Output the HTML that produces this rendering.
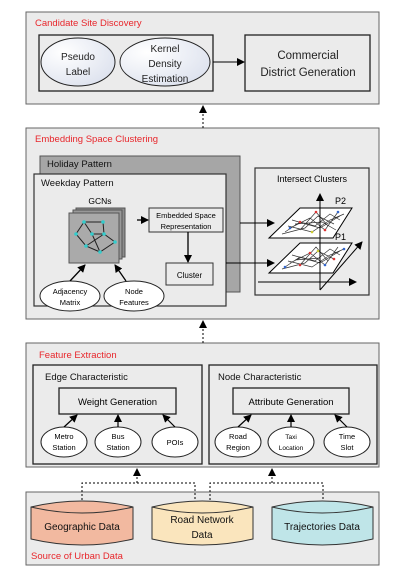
<!DOCTYPE html>
<html><head><style>body{margin:0;background:#fff}svg{display:block}text{font-family:"Liberation Sans",sans-serif}</style></head>
<body>
<svg width="406" height="579" viewBox="0 0 406 579" xmlns="http://www.w3.org/2000/svg">
<defs>
<marker id="a" markerWidth="8" markerHeight="8" refX="7" refY="4" orient="auto" markerUnits="userSpaceOnUse"><path d="M0,0 L8,4 L0,8 z" fill="#000"/></marker>
<radialGradient id="eg" cx="0.3" cy="0.3" r="0.8"><stop offset="0" stop-color="#fff"/><stop offset="1" stop-color="#dde2ee"/></radialGradient>
</defs>
<g stroke="#666" stroke-width="1" fill="#ebebeb">
<rect x="26" y="12" width="353" height="92"/>
<rect x="26" y="128" width="353" height="191"/>
<rect x="26" y="343" width="353" height="124"/>
<rect x="26" y="492" width="353" height="73"/>
</g>
<g font-size="9.5" fill="#e8262b">
<text x="35" y="26">Candidate Site Discovery</text>
<text x="35" y="142">Embedding Space  Clustering</text>
<text x="39" y="358">Feature Extraction</text>
<text x="31" y="559">Source of Urban Data</text>
</g>
<g stroke="#222" stroke-width="1.3" fill="#ebebeb">
<rect x="39" y="35" width="174" height="56"/>
<rect x="245" y="35" width="125" height="56"/>
</g>
<g stroke="#222" fill="url(#eg)"><ellipse cx="78" cy="62" rx="37" ry="24"/><ellipse cx="165" cy="62" rx="45" ry="24"/></g>
<g font-size="10" text-anchor="middle" fill="#222">
<text x="78" y="60">Pseudo</text><text x="78" y="75">Label</text>
<text x="165" y="52">Kernel</text><text x="165" y="67">Density</text><text x="165" y="82">Estimation</text>
</g>
<g font-size="11.5" text-anchor="middle" fill="#222"><text x="308" y="59">Commercial</text><text x="308" y="76">District Generation</text></g>
<line x1="213" y1="62" x2="244" y2="62" stroke="#000" marker-end="url(#a)"/>
<line x1="203" y1="128" x2="203" y2="106" stroke="#000" stroke-dasharray="2,2" marker-end="url(#a)"/>
<line x1="203" y1="343" x2="203" y2="321" stroke="#000" stroke-dasharray="2,2" marker-end="url(#a)"/>
<rect x="40" y="156" width="200" height="136" fill="#a6a6a6" stroke="#555"/>
<text x="47" y="167" font-size="9.5" fill="#111">Holiday Pattern</text>
<rect x="34" y="174" width="192" height="132" fill="#ebebeb" stroke="#333" stroke-width="1.2"/>
<text x="41" y="186" font-size="9.5" fill="#111">Weekday Pattern</text>
<text x="100" y="204" font-size="8.5" text-anchor="middle">GCNs</text>
<rect x="76" y="208" width="49" height="49" fill="#8c8c8c" stroke="#555"/>
<rect x="73" y="210" width="49" height="49" fill="#999" stroke="#555"/>
<rect x="69" y="213" width="50" height="50" fill="#aaa" stroke="#555"/>
<g stroke="#222" stroke-width="1" fill="none"><path d="M84,222 L76,234 L86,246 L100,252 L115,242 L104,234 L92,234 L84,222 L103,222 L104,234 L86,246 M92,234 L100,252"/></g>
<g fill="#3cc"><circle cx="84" cy="222" r="1.8"/><circle cx="103" cy="222" r="1.8"/><circle cx="76" cy="234" r="1.8"/><circle cx="92" cy="234" r="1.8"/><circle cx="104" cy="234" r="1.8"/><circle cx="86" cy="246" r="1.8"/><circle cx="100" cy="252" r="1.8"/><circle cx="115" cy="242" r="1.8"/></g>
<rect x="149" y="208" width="74" height="24" fill="#ebebeb" stroke="#333"/>
<text x="186" y="218" font-size="7.5" text-anchor="middle">Embedded Space</text>
<text x="186" y="229" font-size="7.5" text-anchor="middle">Representation</text>
<line x1="137" y1="220" x2="148" y2="220" stroke="#000" stroke-width="1.3" marker-end="url(#a)"/>
<line x1="188" y1="232" x2="188" y2="262" stroke="#000" stroke-width="1.3" marker-end="url(#a)"/>
<rect x="166" y="263" width="47" height="22" fill="#ebebeb" stroke="#333"/>
<text x="189.5" y="278" font-size="8" text-anchor="middle">Cluster</text>
<g stroke="#222" fill="#fff"><ellipse cx="70" cy="296" rx="30" ry="15"/><ellipse cx="134" cy="296" rx="30" ry="15"/></g>
<g font-size="7.5" text-anchor="middle"><text x="70" y="294">Adjacency</text><text x="70" y="305">Matrix</text><text x="134" y="294">Node</text><text x="134" y="305">Features</text></g>
<line x1="70" y1="281" x2="85" y2="265" stroke="#000" stroke-width="1.3" marker-end="url(#a)"/>
<line x1="126" y1="281" x2="115" y2="265" stroke="#000" stroke-width="1.3" marker-end="url(#a)"/>
<rect x="255" y="168" width="114" height="127" fill="#ebebeb" stroke="#333" stroke-width="1.2"/>
<text x="312" y="182" font-size="9" text-anchor="middle">Intersect Clusters</text>
<line x1="240" y1="223" x2="274" y2="223" stroke="#000" marker-end="url(#a)"/>
<line x1="226" y1="263" x2="274" y2="263" stroke="#000" marker-end="url(#a)"/>
<line x1="258" y1="282" x2="356" y2="282" stroke="#000" marker-end="url(#a)"/>
<line x1="320" y1="290" x2="362" y2="242" stroke="#000" marker-end="url(#a)"/>
<g stroke="#000" fill="#fff"><path d="M300,208 L352,208 L333,238 L269,238 z"/><path d="M300,243 L352,243 L333,273 L269,273 z"/></g>
<g stroke="#333" stroke-width="0.7" fill="none">
<path d="M285,232 L300,222 L315,226 L330,214 L340,220 M290,228 L310,218 L325,230 L338,212 M282,234 L305,228 L318,216 L334,224 M295,224 L322,222 L336,230 M288,226 L312,232 L330,220 L344,214 M300,230 L316,212 L328,226 M292,220 L320,228 L340,216"/>
<path d="M285,267 L300,257 L315,261 L330,249 L340,255 M290,263 L310,253 L325,265 L338,247 M282,269 L305,263 L318,251 L334,259 M295,260 L320,258 M288,261 L312,267 L330,255 L344,249 M300,265 L316,247 L328,261 M292,255 L320,263 L340,251"/></g>
<g fill="#d33"><circle cx="300" cy="222" r="1.3"/><circle cx="325" cy="230" r="1.3"/><circle cx="316" cy="212" r="1.3"/><circle cx="310" cy="253" r="1.3"/><circle cx="334" cy="259" r="1.3"/><circle cx="300" cy="265" r="1.3"/></g>
<g fill="#36c"><circle cx="290" cy="228" r="1.3"/><circle cx="338" cy="212" r="1.3"/><circle cx="285" cy="267" r="1.3"/><circle cx="325" cy="265" r="1.3"/><circle cx="344" cy="249" r="1.3"/></g>
<g fill="#cc3"><circle cx="312" cy="232" r="1.3"/><circle cx="318" cy="251" r="1.3"/></g>
<line x1="320" y1="290" x2="320" y2="194" stroke="#000" marker-end="url(#a)"/>
<text x="335" y="204" font-size="9">P2</text><text x="335" y="240" font-size="9">P1</text>
<g stroke="#222" stroke-width="1.3" fill="#ebebeb"><rect x="33" y="365" width="169" height="99"/><rect x="209" y="365" width="168" height="99"/><rect x="59" y="388" width="117" height="26"/><rect x="233" y="388" width="116" height="26"/></g>
<g font-size="9.5" fill="#111"><text x="45" y="380">Edge Characteristic</text><text x="218" y="380">Node Characteristic</text></g>
<g font-size="9.5" text-anchor="middle"><text x="117.5" y="405">Weight Generation</text><text x="291" y="405">Attribute Generation</text></g>
<g stroke="#222" fill="#fff"><ellipse cx="64" cy="442" rx="23" ry="15"/><ellipse cx="118" cy="442" rx="23" ry="15"/><ellipse cx="175" cy="442" rx="23" ry="15"/><ellipse cx="238" cy="442" rx="23" ry="15"/><ellipse cx="291" cy="442" rx="23" ry="15"/><ellipse cx="347" cy="442" rx="23" ry="15"/></g>
<g font-size="7.5" text-anchor="middle"><text x="64" y="439">Metro</text><text x="64" y="450">Station</text><text x="118" y="439">Bus</text><text x="118" y="450">Station</text><text x="175" y="445">POIs</text><text x="238" y="439">Road</text><text x="238" y="450">Region</text><text x="291" y="439" font-size="6.5">Taxi</text><text x="291" y="450" font-size="6.5">Location</text><text x="347" y="439">Time</text><text x="347" y="450">Slot</text></g>
<g stroke="#000" stroke-width="1.2"><line x1="64" y1="427" x2="77" y2="415" marker-end="url(#a)"/><line x1="118" y1="427" x2="118" y2="415" marker-end="url(#a)"/><line x1="175" y1="427" x2="163" y2="415" marker-end="url(#a)"/><line x1="238" y1="427" x2="251" y2="415" marker-end="url(#a)"/><line x1="291" y1="427" x2="291" y2="415" marker-end="url(#a)"/><line x1="347" y1="427" x2="335" y2="415" marker-end="url(#a)"/></g>
<g stroke="#000" fill="none" stroke-dasharray="2,2"><path d="M82,500 V483 H195 V500"/><path d="M210,500 V483 H323 V500"/></g>
<line x1="137" y1="483" x2="137" y2="469" stroke="#000" stroke-dasharray="2,2" marker-end="url(#a)"/>
<line x1="272" y1="483" x2="272" y2="469" stroke="#000" stroke-dasharray="2,2" marker-end="url(#a)"/>
<g stroke="#333">
<path d="M31,507 Q82,495 133,507 V539 Q82,551 31,539 z" fill="#f2b9a0"/><path d="M31,507 Q82,519 133,507" fill="none"/>
<path d="M152,507 Q202,495 253,507 V539 Q202,551 152,539 z" fill="#fae5bd"/><path d="M152,507 Q202,519 253,507" fill="none"/>
<path d="M272,507 Q322,495 373,507 V539 Q322,551 272,539 z" fill="#bfe5e8"/><path d="M272,507 Q322,519 373,507" fill="none"/>
</g>
<g font-size="10" text-anchor="middle" fill="#111"><text x="82" y="530">Geographic Data</text><text x="202" y="523">Road Network</text><text x="202" y="538">Data</text><text x="322" y="530">Trajectories Data</text></g>
</svg>
</body></html>
